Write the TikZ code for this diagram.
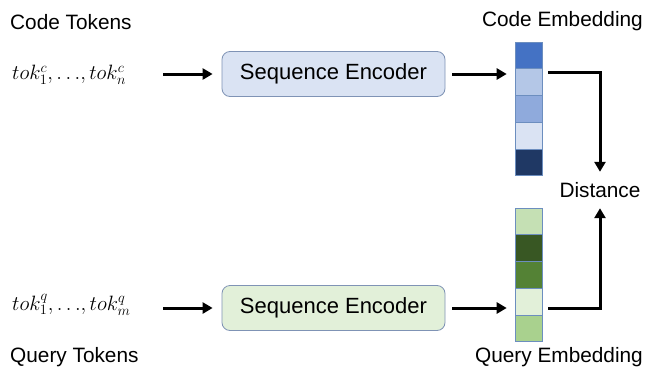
\documentclass[tikz,border=0pt]{standalone}
\usepackage{fontspec}
\setmainfont{Liberation Sans}
\usetikzlibrary{arrows.meta,calc}
\definecolor{encblue}{HTML}{DAE3F3}
\definecolor{encgreen}{HTML}{E2F0D9}
\definecolor{encline}{HTML}{7F93B5}
\definecolor{cellline}{HTML}{6C8EBF}
\definecolor{cA}{HTML}{4472C4}
\definecolor{cB}{HTML}{B4C7E7}
\definecolor{cC}{HTML}{8FAADC}
\definecolor{cD}{HTML}{DAE3F3}
\definecolor{cE}{HTML}{1F3864}
\definecolor{gA}{HTML}{C5E0B4}
\definecolor{gB}{HTML}{385723}
\definecolor{gC}{HTML}{548235}
\definecolor{gD}{HTML}{E2F0D9}
\definecolor{gE}{HTML}{A9D18E}
\tikzset{
  lbl/.style={font=\fontsize{20.8}{25}\selectfont, inner sep=0pt},
  toks/.style={font=\fontsize{21.8}{26}\selectfont, inner sep=0pt},
  enc/.style={draw=encline, line width=0.8pt, rounded corners=8pt, minimum width=223pt, minimum height=45pt, font=\fontsize{22}{26}\selectfont, inner sep=0pt},
  cell/.style={draw=cellline, line width=0.6pt, minimum width=27pt, minimum height=26.3pt, inner sep=0pt},
  arr/.style={line width=3pt, -{Triangle[length=10pt,width=11pt]}},
}
\begin{document}
\begin{tikzpicture}[x=1pt,y=-1pt]
\path[use as bounding box, fill=white] (0,0) rectangle (645,375);
% labels
\node[lbl, anchor=west] (codetok) at (10,22) {Code Tokens};
\node[lbl, anchor=west] (querytok) at (10,357) {Query Tokens};
\node[lbl, anchor=east] (codeemb) at (643,21) {Code Embedding};
\node[lbl, anchor=east] (queryemb) at (643,357) {Query Embedding};
% token sequences
\node[toks, anchor=west] (tc) at (12,75) {$tok_1^c,{\dots},tok_n^c$};
\node[toks, anchor=west] (tq) at (12,305) {$tok_1^q,{\dots},tok_m^q$};
% encoders
\node[enc, fill=encblue] (encc) at (333.5,74) {Sequence Encoder};
\node[enc, fill=encgreen] (encq) at (333.5,308) {Sequence Encoder};
% code embedding vector
\node[cell, fill=cA] (c1) at (528.5,55) {};
\node[cell, fill=cB, anchor=north] (c2) at (c1.south) {};
\node[cell, fill=cC, anchor=north] (c3) at (c2.south) {};
\node[cell, fill=cD, anchor=north] (c4) at (c3.south) {};
\node[cell, fill=cE, anchor=north] (c5) at (c4.south) {};
% query embedding vector
\node[cell, fill=gA] (q1) at (528.5,221) {};
\node[cell, fill=gB, anchor=north] (q2) at (q1.south) {};
\node[cell, fill=gC, anchor=north] (q3) at (q2.south) {};
\node[cell, fill=gD, anchor=north] (q4) at (q3.south) {};
\node[cell, fill=gE, anchor=north] (q5) at (q4.south) {};
% distance
\node[lbl, minimum height=36pt] (dist) at (600,190) {Distance};
% connectors
\coordinate (tcend) at (163,74);
\coordinate (tqend) at (163,308);
\draw[arr] (tcend) -- ($(tcend -| encc.west)+(-9,0)$);
\draw[arr] (tqend) -- ($(tqend -| encq.west)+(-9,0)$);
\draw[arr] ($(encc.east)+(7,0)$) -- ($(encc.east -| c2.west)+(-8,0)$);
\draw[arr] ($(encq.east)+(7,0)$) -- ($(encq.east -| q4.west)+(-8,0)$);
\draw[arr] ($(c2.north east)+(6,4)$) -| (dist.north);
\draw[arr] ($(q4.east)+(6,7)$) -| (dist.south);
\end{tikzpicture}
\end{document}
